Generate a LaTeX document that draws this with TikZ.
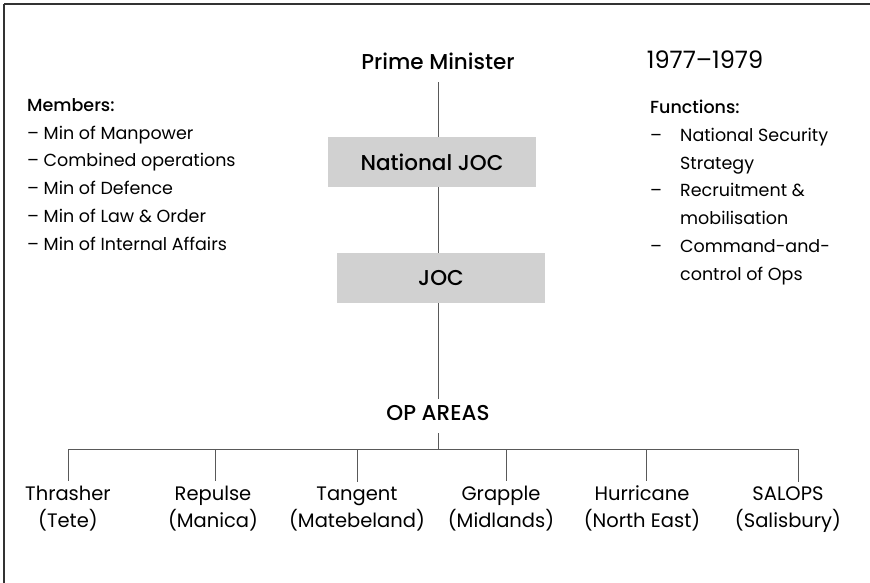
\documentclass[tikz,border=0pt]{standalone}
\usepackage{fontspec}
\setmainfont{Poppins}
\newfontfamily\medfont{Poppins Medium}
\begin{document}
\begin{tikzpicture}[x=1pt,y=-1pt,
  conn/.style={draw=black!65, line width=1pt},
  frameline/.style={draw=black!80, line width=1.5pt},
  boxnode/.style={fill=black!18, minimum width=208pt, minimum height=50pt, inner sep=0pt,
    font=\medfont\fontsize{21.5}{24}\selectfont},
  headnode/.style={inner sep=0pt, anchor=base, font=\medfont\fontsize{21.5}{24}\selectfont},
  leafnode/.style={inner sep=0pt, align=center, anchor=base,
    font=\fontsize{19.5}{27}\selectfont},
  listnode/.style={inner sep=0pt, align=left, anchor=base west,
    font=\fontsize{17.5}{27.7}\selectfont}]
\useasboundingbox (0,0) rectangle (870,583);

% open frame: top and left edges
\draw[frameline] (4,4) -- (870,4);
\draw[frameline] (4,4) -- (4,583);

% chain of command
\node[headnode] (pm) at (438,70) {Prime Minister};
\node[boxnode] (njoc) at (432,162) {National JOC};
\node[boxnode] (joc) at (441,278) {JOC};
\node[headnode] (op) at (438,420) {OP AREAS};
\node[headnode, font=\fontsize{24}{26}\selectfont] (years) at (705,69) {1977–1979};

\draw[conn] ([yshift=-12pt]pm.south) -- (pm.south |- njoc.north);
\draw[conn] (pm.south |- njoc.south) -- (pm.south |- joc.north);
\draw[conn] (pm.south |- joc.south) -- ([yshift=6pt]op.north);
\coordinate (bar) at (438,449);
\draw[conn] ([yshift=-13pt]op.south) -- (bar);

% operational areas (anchored on the baseline of the second line)
\node[leafnode] (t1) at (68,527) {Thrasher\\(Tete)};
\node[leafnode] (t2) at (213,527) {Repulse\\(Manica)};
\node[leafnode] (t3) at (357,527) {Tangent\\(Matebeland)};
\node[leafnode] (t4) at (501,527) {Grapple\\(Midlands)};
\node[leafnode] (t5) at (642,527) {Hurricane\\(North East)};
\node[leafnode] (t6) at (788,527) {SALOPS\\(Salisbury)};

\coordinate (d1) at (68,449);
\coordinate (d2) at (215,449);
\coordinate (d3) at (357,449);
\coordinate (d4) at (506,449);
\coordinate (d5) at (646,449);
\coordinate (d6) at (798,449);
\draw[conn] (d1) -- (d6);
\foreach \i in {1,...,6}{
  \draw[conn] (d\i) -- ([yshift=4pt]d\i |- t\i.north);
}

% side panels (anchored on the baseline of the last line)
\node[listnode] (members) at (27,250) {{\medfont Members:}\\
– Min of Manpower\\
– Combined operations\\
– Min of Defence\\
– Min of Law \& Order\\
– Min of Internal Affairs};

\node[listnode] (functions) at (650,280) {{\medfont Functions:}\\
\makebox[30pt][l]{–}National Security\\
\hspace*{30pt}Strategy\\
\makebox[30pt][l]{–}Recruitment \&\\
\hspace*{30pt}mobilisation\\
\makebox[30pt][l]{–}Command-and-\\
\hspace*{30pt}control of Ops};
\end{tikzpicture}
\end{document}
